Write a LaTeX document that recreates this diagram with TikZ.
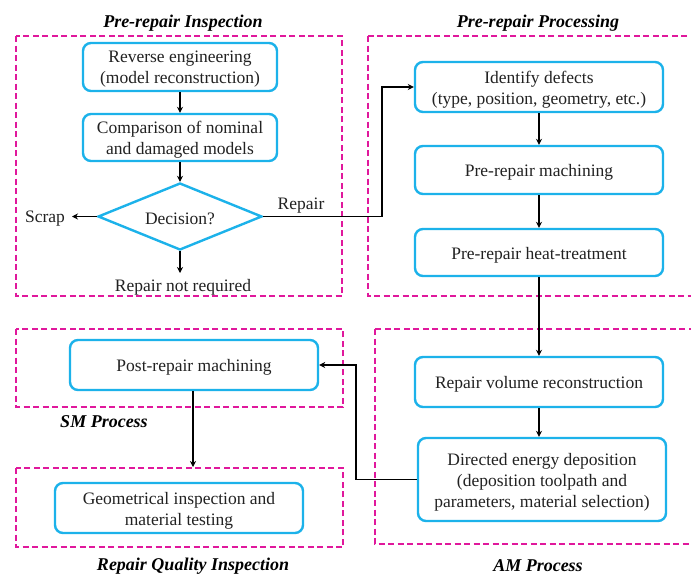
\documentclass[tikz,border=0pt]{standalone}
\usepackage{fontspec}
\setmainfont{Liberation Serif}
\usetikzlibrary{shapes.geometric,arrows.meta}
\definecolor{frm}{HTML}{E0189C}
\definecolor{bx}{HTML}{1CB2EA}
\definecolor{txt}{HTML}{222222}
\tikzset{
  frame/.style={draw=frm, line width=1.8pt, dash pattern=on 6pt off 3.5pt},
  lbl/.style={text=txt, font=\fontsize{17.5}{21}\selectfont, inner sep=0pt, yshift=-2.5pt},
  boxtext/.style={lbl, align=center},
  boxn/.style={draw=bx, line width=2.4pt, rounded corners=8pt, inner sep=0pt},
  dec/.style={draw=bx, line width=2.4pt, diamond, inner sep=0pt},
  ttl/.style={text=black, font=\bfseries\itshape\fontsize{18}{21}\selectfont, inner sep=0pt, yshift=-1.5pt},
  conn/.style={draw=black, line width=1.8pt, -{Stealth[length=6pt,width=6pt]}}
}
\begin{document}
\begin{tikzpicture}[x=1pt,y=-1pt]
\useasboundingbox (0,0) rectangle (691,576);
\fill[white] (0,0) rectangle (691,576);
% frames
\draw[frame] (16,36) rectangle (342,296);
\draw[frame] (368,36) rectangle (695,296);
\draw[frame] (16,329) rectangle (343,407);
\draw[frame] (16,468) rectangle (343,547);
\draw[frame] (375,329) rectangle (695,544);
% titles
\node[ttl] (t1) at (183,22) {Pre-repair Inspection};
\node[ttl] (t2) at (538,22) {Pre-repair Processing};
\node[ttl] (t3) at (104,420) {SM Process};
\node[ttl] (t4) at (193,564.5) {Repair Quality Inspection};
\node[ttl] (t5) at (538,564.5) {AM Process};
% boxes
\node[boxn, minimum width=194pt, minimum height=48pt, label={[boxtext]center:{Reverse engineering\\(model reconstruction)}}] (rev) at (180,67) {};
\node[boxn, minimum width=194pt, minimum height=47pt, label={[boxtext]center:{Comparison of nominal\\and damaged models}}] (cmp) at (180,137.5) {};
\node[dec, minimum width=164pt, minimum height=67pt, label={[boxtext]center:{Decision?}}] (decn) at (180,216.5) {};
\node[lbl] (scrap) at (45,216) {Scrap};
\node[lbl] (nreq) at (183,285) {Repair not required};
\node[lbl] (rep) at (301,203) {Repair};
\node[boxn, minimum width=248pt, minimum height=50pt, label={[boxtext]center:{Identify defects\\(type, position, geometry, etc.)}}] (idf) at (539,87) {};
\node[boxn, minimum width=248pt, minimum height=48pt, label={[boxtext]center:{Pre-repair machining}}] (prm) at (539,170) {};
\node[boxn, minimum width=248pt, minimum height=47pt, label={[boxtext]center:{Pre-repair heat-treatment}}] (prh) at (539,252.5) {};
\node[boxn, minimum width=248pt, minimum height=50pt, label={[boxtext]center:{Repair volume reconstruction}}] (rvr) at (539,382) {};
\node[boxn, minimum width=248pt, minimum height=83pt, label={[boxtext]center:{Directed energy deposition\\(deposition toolpath and\\parameters, material selection)}}] (ded) at (542,479.5) {};
\node[boxn, minimum width=248pt, minimum height=50pt, label={[boxtext]center:{Post-repair machining}}] (pom) at (194,365) {};
\node[boxn, minimum width=248pt, minimum height=50pt, label={[boxtext]center:{Geometrical inspection and\\material testing}}] (geo) at (179,508) {};
\coordinate (scrapend) at (72,216.5);
\coordinate (nreqend) at (180,273);
\coordinate (geotop) at (193,467);
% connectors
\draw[conn] (rev) -- (cmp);
\draw[conn] (cmp) -- (decn);
\draw[conn] (decn.west) -- (scrapend);
\draw[conn] (decn.south) -- (nreqend);
\draw[conn] (decn.east) -- (382,216.5) |- (idf.west);
\draw[conn] (idf) -- (prm);
\draw[conn] (prm) -- (prh);
\draw[conn] (prh.south -| rvr.north) -- (rvr.north);
\draw[conn] (rvr.south) -- (rvr.south |- ded.north);
\draw[conn] (ded.west) -- (356,479.5) |- (pom.east);
\draw[conn] (pom.south -| geotop) -- (geotop);
\end{tikzpicture}
\end{document}
